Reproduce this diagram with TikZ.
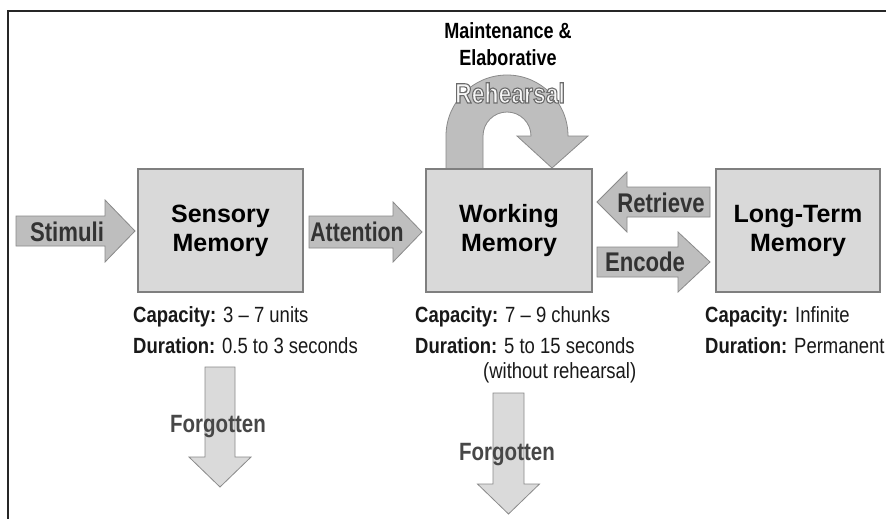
\documentclass[tikz,border=0pt]{standalone}
\usepackage{fontspec}
\setmainfont{Liberation Sans}
\newfontfamily\nf[FakeStretch=0.82]{Liberation Sans}
\newfontfamily\nfi[FakeStretch=0.84]{Liberation Sans}
\definecolor{boxfill}{HTML}{D9D9D9}
\definecolor{boxline}{HTML}{7F7F7F}
\definecolor{arrfill}{HTML}{BEBEBE}
\definecolor{arrline}{HTML}{8A8A8A}
\definecolor{fgfill}{HTML}{DADADA}
\definecolor{lblc}{HTML}{333333}
\definecolor{fgc}{HTML}{474747}
\tikzset{
  membox/.style={draw=boxline, fill=boxfill, line width=1.2pt, align=center, inner sep=0pt,
    font=\bfseries\fontsize{25}{29}\selectfont, text=black},
  barrow/.style={fill=arrfill, draw=arrline, line width=0.8pt, line join=miter},
  fgarrow/.style={fill=fgfill, draw=arrline, line width=0.8pt, line join=miter},
  arrlbl/.style={font=\nf\bfseries\fontsize{27}{30}\selectfont, text=lblc, inner sep=0pt},
  fglbl/.style={font=\nf\bfseries\fontsize{25}{28}\selectfont, text=fgc, inner sep=0pt},
  info/.style={font=\nfi\fontsize{22}{26}\selectfont, text=black!90, inner sep=0pt, anchor=base west},
  toplbl/.style={font=\nf\bfseries\fontsize{22}{27}\selectfont, align=center, text=black, inner sep=0pt}
}
% horizontal block arrow: style, tail x, tip x, y, shaft half, head half, head length (signed)
\newcommand\hblock[7]{%
  \pgfmathsetmacro\hbB{#3-(#7)}%
  \pgfmathsetmacro\hbS{#4-#5}\pgfmathsetmacro\hbSS{#4+#5}%
  \pgfmathsetmacro\hbH{#4-#6}\pgfmathsetmacro\hbHH{#4+#6}%
  \draw[#1] (#2,\hbS) -- (\hbB,\hbS) -- (\hbB,\hbH) -- (#3,#4) -- (\hbB,\hbHH) -- (\hbB,\hbSS) -- (#2,\hbSS) -- cycle;}
% vertical block arrow: style, x, tail y, tip y, shaft half, head half, head length
\newcommand\vblock[7]{%
  \pgfmathsetmacro\hbB{#4-(#7)}%
  \pgfmathsetmacro\hbS{#2-#5}\pgfmathsetmacro\hbSS{#2+#5}%
  \pgfmathsetmacro\hbH{#2-#6}\pgfmathsetmacro\hbHH{#2+#6}%
  \draw[#1] (\hbS,#3) -- (\hbS,\hbB) -- (\hbH,\hbB) -- (#2,#4) -- (\hbHH,\hbB) -- (\hbSS,\hbB) -- (\hbSS,#3) -- cycle;}
\begin{document}
\begin{tikzpicture}[x=1pt,y=-1pt]
\useasboundingbox (0,0) rectangle (886,519);
\fill[white] (0,0) rectangle (886,519);
\draw[line width=1.6pt, black!85] (8,525) -- (8,11) -- (892,11);

% rehearsal loop
\draw[barrow] (446,169) -- (446,136) arc[start angle=180,end angle=0,radius=61pt]
  -- (588,136) -- (552,168) -- (517,136) -- (531,136)
  arc[start angle=0,end angle=180,radius=24pt] -- (483,169) -- cycle;
\node[font=\nf\bfseries\fontsize{28}{30}\selectfont, text=white!97!black, inner sep=0pt] (reh) at (510,93)
  {\special{pdf:literal direct 2 Tr 1.1 w 0.42 G}Rehearsal\special{pdf:literal direct 0 Tr}};

\node[toplbl] (maint) at (508,44) {Maintenance \&\\Elaborative};

% boxes
\node[membox, minimum width=165pt, minimum height=123pt] (sm) at (220.5,230.5) {Sensory\\Memory};
\node[membox, minimum width=166pt, minimum height=123pt] (wm) at (509,230.5) {Working\\Memory};
\node[membox, minimum width=164pt, minimum height=123pt] (ltm) at (798,230.5) {Long-Term\\Memory};

% block arrows
\hblock{barrow}{16}{135}{231}{15}{31}{30}
\hblock{barrow}{309}{422}{232}{16}{30}{29}
\hblock{barrow}{710}{597}{202}{15}{30}{-30}
\hblock{barrow}{597}{710}{262}{15}{30}{32}
\node[arrlbl] (stim) at (67,232) {Stimuli};
\node[arrlbl, xscale=0.96] (att) at (357,232) {Attention};
\node[arrlbl] (ret) at (661,203) {Retrieve};
\node[arrlbl] (enc) at (645,262) {Encode};

% forgotten arrows
\vblock{fgarrow}{220}{367}{487}{15}{31}{30}
\vblock{fgarrow}{508.5}{393}{514}{15.5}{31}{30}
\node[fglbl] (f1) at (218,427) {Forgotten};
\node[fglbl] (f2) at (507,455) {Forgotten};

% info texts
\node[info] (c1) at (133,322) {\textbf{Capacity:} 3 – 7 units};
\node[info] (d1) at (133,353) {\textbf{Duration:} 0.5 to 3 seconds};
\node[info] (c2) at (415,322) {\textbf{Capacity:} 7 – 9 chunks};
\node[info] (d2) at (415,353) {\textbf{Duration:} 5 to 15 seconds};
\node[info] (w2) at (483,378) {(without rehearsal)};
\node[info] (c3) at (705,322) {\textbf{Capacity:} Infinite};
\node[info] (d3) at (705,353) {\textbf{Duration:} Permanent};
\end{tikzpicture}
\end{document}
